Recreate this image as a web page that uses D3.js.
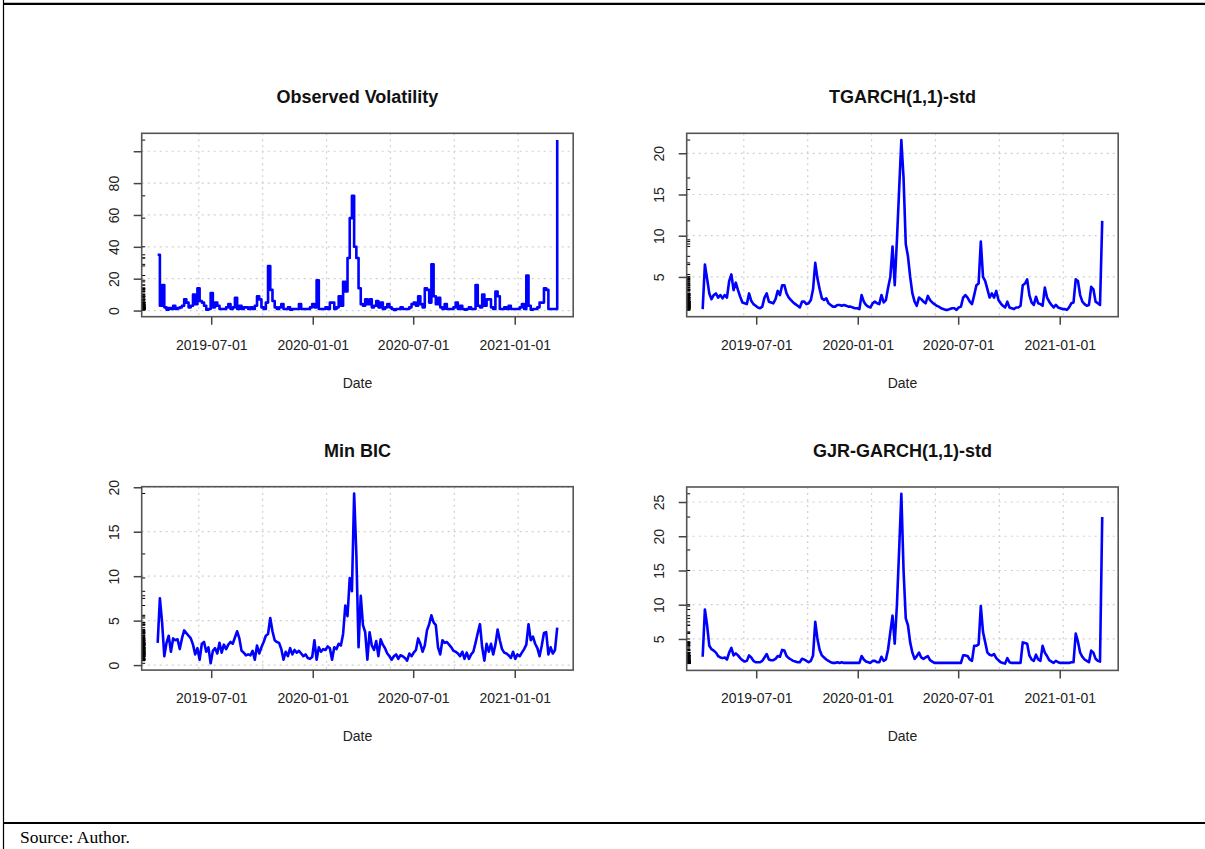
<!DOCTYPE html>
<html>
<head>
<meta charset="utf-8">
<script src="https://cdn.jsdelivr.net/npm/d3@7"></script>
<style>
  body { margin: 0; background: #fff; }
  svg { display: block; }
</style>
</head>
<body>
<div id="chart"></div>
<script>
// dates: one observation every 4 days from 2019-03-26
const startDate = "2019-03-26";
const stepDays = 4;
const xTickDates = ["2019-07-01", "2020-01-01", "2020-07-01", "2021-01-01"];

const observedVol = [
  35, 3, 16, 2, 0.5, 1.5, 1, 3, 1, 1.5,
  2, 3, 7, 5, 2, 3, 10, 4, 14, 6,
  5, 3, 0.5, 1, 11, 2, 5, 3, 1, 1,
  1, 2, 4, 1, 2, 8, 1, 3, 1, 2,
  2, 1, 2, 1, 3, 9, 7, 2, 1, 5,
  28, 13, 6, 2, 1, 2, 4, 1, 1, 2,
  0.5, 1, 1, 1, 4, 1, 1, 1, 1, 2,
  4, 2, 19, 1, 1, 1, 2, 1, 5, 5,
  1, 2, 9, 3, 18, 12, 33, 58, 72, 40,
  33, 14, 4, 3, 7, 4, 7, 2, 3, 6,
  2, 5, 1, 2, 4, 2, 1, 0.4, 1, 1,
  2, 1, 1, 1, 2, 4, 5, 3, 9, 4,
  2, 14, 13, 5, 29, 9, 4, 8, 2, 1,
  4, 1, 1, 1, 2, 5, 1, 3, 1, 0.5,
  1, 2, 1, 1, 16, 3, 2, 10, 3, 7,
  7, 2, 1, 12, 9, 1, 1, 2, 1, 3,
  1, 1, 1, 1, 2, 4, 1, 22, 3, 0.5,
  1, 1, 2, 5, 5, 14, 13, 1, 1, 1,
  1, 107
];

const tgarchVol = [
  1.1, 6.5, 4.8, 3.0, 2.3, 2.8, 3.0, 2.5, 2.8, 2.4,
  2.8, 2.5, 4.5, 5.3, 3.4, 4.3, 3.4, 2.6, 1.9, 1.8,
  1.7, 3.0, 2.1, 1.7, 1.5, 1.3, 1.2, 1.4, 2.5, 3.0,
  2.0, 1.9, 1.8, 2.3, 3.3, 2.8, 4.0, 4.0, 3.0, 2.5,
  2.2, 1.9, 1.7, 1.5, 1.3, 2.0, 2.0, 1.7, 1.8, 2.2,
  3.5, 6.7, 4.8, 3.5, 2.4, 2.2, 2.4, 1.8, 1.6, 1.4,
  1.4, 1.6, 1.6, 1.5, 1.6, 1.5, 1.4, 1.4, 1.3, 1.2,
  1.2, 1.1, 2.8, 2.0, 1.6, 1.4, 1.3, 1.8, 2.0, 1.8,
  1.7, 2.8, 1.9, 2.2, 3.7, 5.0, 8.7, 4.0, 9.5, 15.6,
  21.6, 17.0, 9.0, 7.5, 5.0, 3.0, 2.0, 1.5, 2.5, 2.3,
  2.0, 1.8, 2.7, 2.2, 1.9, 1.7, 1.5, 1.4, 1.2, 1.1,
  1.0, 1.0, 1.1, 1.2, 1.2, 1.0, 1.3, 1.4, 2.5, 2.8,
  2.5, 2.0, 1.7, 2.8, 4.0, 4.2, 9.3, 5.0, 4.5, 3.5,
  2.5, 3.0, 2.5, 3.3, 2.2, 1.8, 1.5, 1.3, 2.0, 1.3,
  1.2, 1.1, 1.3, 1.3, 1.5, 4.0, 4.2, 4.7, 2.8, 1.9,
  1.6, 2.6, 1.8, 1.7, 1.5, 3.7, 2.5, 2.0, 1.6, 1.3,
  1.6, 1.3, 1.2, 1.1, 1.1, 1.0, 1.3, 1.8, 1.9, 4.7,
  4.5, 2.8, 2.0, 1.7, 1.5, 1.6, 3.8, 3.5, 2.0, 1.8,
  1.6, 11.8
];

const minBicVol = [
  2.5, 7.5, 4.8, 1.0, 2.5, 3.3, 1.5, 3.0, 2.8, 2.9,
  1.8, 3.0, 3.9, 3.6, 3.3, 3.0, 2.3, 1.2, 1.9, 0.6,
  2.4, 2.6, 1.5, 2.0, 0.2, 1.6, 1.9, 1.3, 2.5, 1.4,
  2.3, 1.8, 2.3, 2.6, 2.4, 3.1, 3.8, 3.0, 1.6, 1.4,
  1.1, 1.2, 1.1, 1.6, 0.6, 2.2, 1.3, 2.0, 2.6, 3.3,
  3.5, 5.3, 3.8, 2.8, 2.6, 2.5, 1.8, 0.6, 1.5, 1.0,
  1.9, 1.2, 1.7, 1.4, 1.6, 1.3, 1.0, 1.2, 0.8, 0.7,
  0.9, 2.8, 0.6, 2.0, 1.5, 1.8, 1.7, 2.1, 1.9, 0.6,
  2.0, 1.8, 2.4, 2.2, 3.5, 6.7, 5.5, 9.8, 8.3, 19.3,
  12.5, 2.0, 7.8, 4.5, 3.7, 0.6, 3.7, 2.2, 1.7, 2.7,
  1.0, 2.9, 2.3, 1.9, 1.3, 1.0, 0.6, 1.0, 1.2, 0.7,
  1.1, 1.0, 0.8, 0.5, 1.3, 1.0, 1.4, 1.7, 3.0, 2.4,
  1.5, 2.2, 3.9, 4.6, 5.6, 4.8, 4.5, 2.0, 1.2, 2.8,
  2.5, 2.6, 2.3, 2.0, 1.6, 1.5, 1.3, 1.0, 1.5, 0.7,
  1.4, 0.7, 1.2, 1.5, 2.5, 3.6, 4.6, 2.0, 0.5, 2.4,
  1.5, 2.4, 1.2, 2.3, 4.0, 2.8, 1.8, 1.4, 1.3, 1.1,
  0.8, 1.5, 0.7, 1.2, 1.0, 1.4, 1.8, 2.3, 4.6, 2.8,
  3.2, 2.4, 1.9, 1.0, 2.2, 3.6, 3.7, 1.2, 2.0, 1.3,
  1.7, 4.2
];

const gjrVol = [
  2.4, 9.3, 7.0, 4.0, 3.5, 3.3, 3.0, 2.5, 2.3, 2.2,
  2.3, 2.0, 3.0, 3.7, 2.6, 2.9, 2.6, 2.2, 1.9, 1.7,
  1.8, 2.6, 2.3, 1.8, 1.6, 1.6, 1.6, 1.8, 2.3, 2.8,
  2.0, 1.9, 1.9, 2.1, 2.5, 2.4, 3.4, 3.3, 2.5, 2.2,
  2.0, 1.8, 1.7, 1.6, 1.6, 2.1, 2.0, 1.8, 1.6, 1.8,
  2.6, 7.5, 5.0, 3.4, 2.6, 2.3, 2.0, 1.8, 1.6, 1.5,
  1.5, 1.6, 1.5, 1.6, 1.5, 1.5, 1.5, 1.5, 1.5, 1.5,
  1.5, 1.5, 2.5, 2.0, 1.7, 1.6, 1.5, 1.8, 1.8, 1.6,
  1.6, 2.4, 1.8, 2.0, 3.5, 6.0, 8.4, 4.3, 10.0, 18.0,
  26.2, 15.0, 8.0, 7.0, 4.5, 3.0, 2.1, 2.5, 3.0, 2.3,
  2.1, 2.3, 2.5, 1.9, 1.7, 1.5, 1.5, 1.5, 1.5, 1.5,
  1.5, 1.5, 1.5, 1.5, 1.5, 1.5, 1.5, 1.5, 2.6, 2.6,
  2.5, 2.0, 1.8, 4.0, 4.0, 4.2, 9.8, 6.0, 4.5, 3.0,
  2.7, 2.6, 2.8, 2.2, 1.9, 1.6, 1.5, 1.4, 2.2, 1.6,
  1.5, 1.5, 1.5, 1.5, 1.5, 4.5, 4.4, 4.3, 2.6, 2.0,
  1.8, 2.7, 2.0, 1.8, 4.0, 3.0, 2.5, 1.9, 1.7, 1.5,
  1.8, 1.6, 1.5, 1.5, 1.5, 1.5, 1.5, 1.6, 1.6, 5.8,
  4.6, 3.0, 2.4, 2.0, 1.8, 1.6, 3.3, 3.0, 2.1, 1.8,
  1.7, 22.8
];

const panelTitles = ["Observed Volatility", "TGARCH(1,1)-std", "Min BIC", "GJR-GARCH(1,1)-std"];
const panelSeries = [observedVol, tgarchVol, minBicVol, gjrVol];
const panelYTicks = [[0, 20, 40, 60, 80, 100], [5, 10, 15, 20], [0, 5, 10, 15, 20], [5, 10, 15, 20, 25]];
const panelYHidden = [[100], [], [], []];
// observed series is drawn as bars-like steps, the fitted ones as lines
const panelCurves = [d3.curveStepAfter, d3.curveLinear, d3.curveLinear, d3.curveLinear];

const svgWidth = 1205;
const svgHeight = 849;
const font = "'Liberation Sans', Arial, sans-serif";

const svg = d3.select("#chart").append("svg")
  .attr("width", svgWidth)
  .attr("height", svgHeight);

// page frame (document table borders)
svg.append("line").attr("x1", 3).attr("x2", svgWidth).attr("y1", 3.8).attr("y2", 3.8)
  .attr("stroke", "#000").attr("stroke-width", 2.2);
svg.append("line").attr("x1", 3.5).attr("x2", 3.5).attr("y1", 0).attr("y2", svgHeight)
  .attr("stroke", "#000").attr("stroke-width", 1.2);
svg.append("line").attr("x1", 3).attr("x2", svgWidth).attr("y1", 823).attr("y2", 823)
  .attr("stroke", "#000").attr("stroke-width", 2.2);
svg.append("text")
  .attr("x", 20).attr("y", 843)
  .attr("font-family", "'Liberation Serif', 'Times New Roman', serif")
  .attr("font-size", "17.5px")
  .attr("fill", "#000")
  .text("Source: Author.");

const parseDate = d3.utcParse("%Y-%m-%d");
const start = parseDate(startDate);
const dates = observedVol.map((d, i) => d3.utcDay.offset(start, i * stepDays));

const plotW = 431.5;
const plotH = 183.4;
const panelPos = [
  { left: 141.7, top: 133.3 },
  { left: 686.7, top: 133.3 },
  { left: 141.7, top: 486.7 },
  { left: 686.7, top: 487.0 }
];

// R-style 4% axis expansion
const xExt = d3.extent(dates);
const xPad = (xExt[1] - xExt[0]) * 0.04;
const xScale = d3.scaleUtc()
  .domain([new Date(+xExt[0] - xPad), new Date(+xExt[1] + xPad)])
  .range([0, plotW]);

// grid() on POSIXct axis: pretty steps of 1e7 seconds
const gridX = d3.range(Math.ceil(+xScale.domain()[0] / 1e10), Math.floor(+xScale.domain()[1] / 1e10) + 1)
  .map(k => new Date(k * 1e10));

const fmt = d3.utcFormat("%Y-%m-%d");

panelSeries.forEach((values, p) => {
  const pos = panelPos[p];
  const g = svg.append("g").attr("transform", `translate(${pos.left}, ${pos.top})`);

  const yExt = d3.extent(values);
  const yPad = (yExt[1] - yExt[0]) * 0.04;
  const yScale = d3.scaleLinear()
    .domain([yExt[0] - yPad, yExt[1] + yPad])
    .range([plotH, 0]);

  const inRange = panelYTicks[p].filter(v => yScale(v) >= 0 && yScale(v) <= plotH);

  // grid
  g.selectAll(".gx").data(gridX).enter().append("line")
    .attr("x1", d => xScale(d)).attr("x2", d => xScale(d))
    .attr("y1", 0).attr("y2", plotH)
    .attr("stroke", "#cfcfcf").attr("stroke-width", 1.2)
    .attr("stroke-dasharray", "2,4");
  g.selectAll(".gy").data(inRange).enter().append("line")
    .attr("x1", 0).attr("x2", plotW)
    .attr("y1", d => yScale(d)).attr("y2", d => yScale(d))
    .attr("stroke", "#cfcfcf").attr("stroke-width", 1.2)
    .attr("stroke-dasharray", "2,4");

  // series line
  const line = d3.line()
    .x((d, i) => xScale(dates[i]))
    .y(d => yScale(d))
    .curve(panelCurves[p]);
  g.append("path")
    .datum(values)
    .attr("d", line)
    .attr("fill", "none")
    .attr("stroke", "#0000ff")
    .attr("stroke-width", 2.6)
    .attr("stroke-linejoin", "round");

  // rug on the y axis
  g.selectAll(".rug").data(values).enter().append("line")
    .attr("x1", 0).attr("x2", 3.5)
    .attr("y1", d => yScale(d)).attr("y2", d => yScale(d))
    .attr("stroke", "#000").attr("stroke-width", 1);

  // box
  g.append("rect")
    .attr("width", plotW).attr("height", plotH)
    .attr("fill", "none").attr("stroke", "#555").attr("stroke-width", 1.6);

  // x axis
  const xAxis = d3.axisBottom(xScale)
    .tickValues(xTickDates.map(parseDate))
    .tickFormat(fmt)
    .tickSizeInner(8).tickSizeOuter(0);
  const gx = g.append("g").attr("transform", `translate(0, ${plotH})`).call(xAxis);
  gx.select(".domain").remove();
  gx.selectAll(".tick line").attr("stroke", "#444").attr("stroke-width", 1.5);
  gx.selectAll(".tick text")
    .attr("y", 33).attr("dy", null)
    .attr("font-family", font).attr("font-size", "14px").attr("fill", "#222");

  // y axis
  const hidden = panelYHidden[p];
  const yAxis = d3.axisLeft(yScale)
    .tickValues(inRange)
    .tickFormat(d => hidden.includes(d) ? "" : d)
    .tickSizeInner(8).tickSizeOuter(0);
  const gy = g.append("g").call(yAxis);
  gy.select(".domain").remove();
  gy.selectAll(".tick line").attr("stroke", "#444").attr("stroke-width", 1.5);
  gy.selectAll(".tick text")
    .attr("transform", "rotate(-90)")
    .attr("x", 0).attr("y", -23).attr("dy", null)
    .attr("text-anchor", "middle")
    .attr("font-family", font).attr("font-size", "14px").attr("fill", "#222");

  // title and axis label
  g.append("text")
    .attr("x", plotW / 2).attr("y", -30)
    .attr("text-anchor", "middle")
    .attr("font-family", font).attr("font-size", "18px").attr("font-weight", "bold")
    .attr("fill", "#111")
    .text(panelTitles[p]);
  g.append("text")
    .attr("x", plotW / 2).attr("y", plotH + 71)
    .attr("text-anchor", "middle")
    .attr("font-family", font).attr("font-size", "14px")
    .attr("fill", "#222")
    .text("Date");
});
</script>
</body>
</html>
